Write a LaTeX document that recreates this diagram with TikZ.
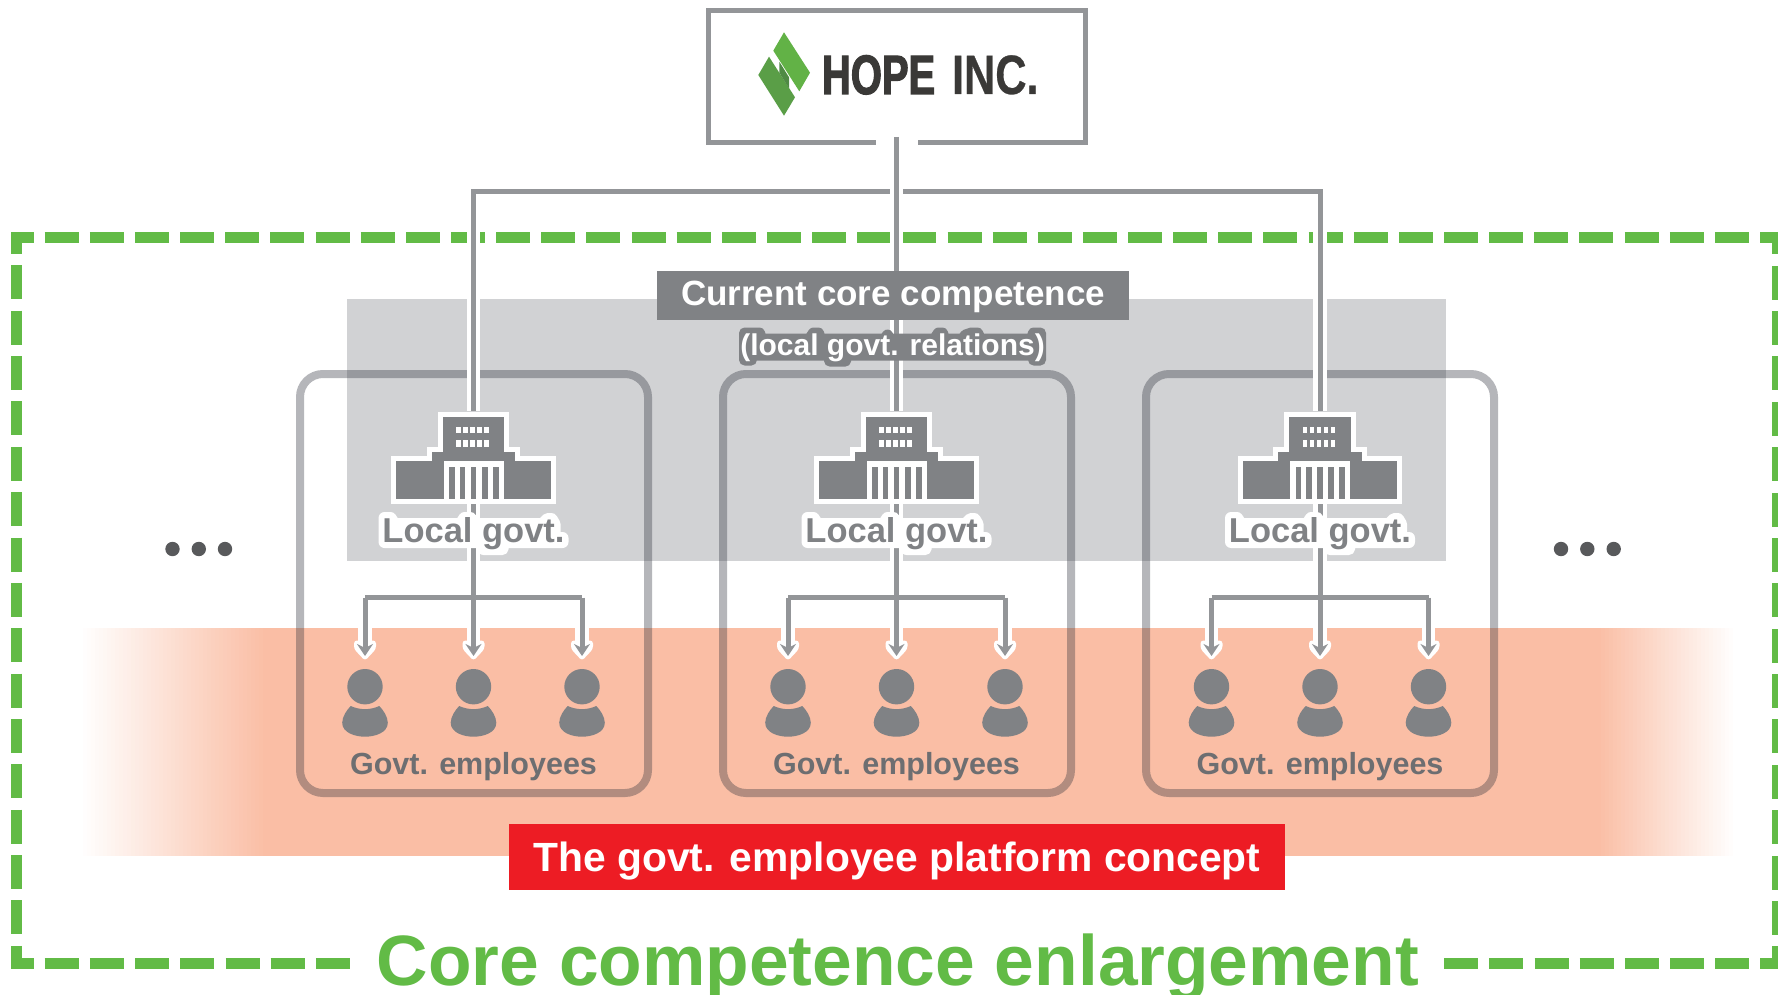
\documentclass[tikz,border=0pt]{standalone}
\usepackage{fontspec}
\usetikzlibrary{arrows.meta}
\setmainfont{Liberation Sans}
\newfontfamily\hopereg[FakeStretch=0.72,FakeBold=2]{Liberation Sans Bold}
\newfontfamily\hopebold[FakeStretch=0.78,FakeBold=0.5]{Liberation Sans Bold}
\definecolor{dashgreen}{HTML}{62BB46}
\definecolor{panelgray}{HTML}{D1D2D4}
\definecolor{salmon}{HTML}{FABEA5}
\definecolor{linegray}{HTML}{939598}
\definecolor{icongray}{HTML}{808285}
\definecolor{textgray}{HTML}{6D6E71}
\definecolor{boxshade}{RGB}{44,47,58}
\definecolor{dotgray}{HTML}{58595B}
\definecolor{redbox}{HTML}{ED1C24}
\definecolor{inkdark}{HTML}{3A3937}
\definecolor{logolight}{HTML}{62B246}
\definecolor{logodark}{HTML}{5A9E47}
\definecolor{logofold}{HTML}{4F8A44}
\tikzset{
  x=1pt,y=-1pt,
  greendash/.style={draw=dashgreen,line width=11pt,line cap=butt,miter limit=10},
  connector/.style={draw=linegray,line width=5pt,line cap=butt},
  halo/.style={draw=white,line width=13.4pt,line cap=butt},
  unitbox/.style={draw=boxshade,draw opacity=.35,line width=8pt,rounded corners=23pt},
  tiptip/.style={-{Stealth[length=12pt,width=16pt,inset=4pt,color=linegray]}},
  plain/.style={inner sep=0pt,outer sep=0pt},
  anchorbox/.style={plain,minimum width=154pt,minimum height=92pt},
  personbox/.style={plain,minimum width=46pt,minimum height=70pt},
  building/.pic={
    \fill[white] (-35.7,411.7-457) rectangle (35.7,456.7-457);
    \fill[white] (-46.8,446.7-457) rectangle (46.8,466.3-457);
    \fill[white] (-82.3,456.3-457) rectangle (82.3,504-457);
    \fill[icongray] (-30.7,416.7-457) rectangle (30.7,461.3-457);
    \fill[icongray] (-41.8,451.7-457) rectangle (41.8,461.3-457);
    \fill[icongray] (-77.3,461.3-457) rectangle (77.3,499-457);
    \fill[white] (-30,461.3-457) rectangle (30,499-457);
    \foreach \a/\b in {-24.3/-19,-13.7/-8.3,-2.7/2.7,8/14,19/25}
      \fill[icongray] (\a,466.7-457) rectangle (\b,499-457);
    \foreach \k in {0,...,4}{
      \fill[white] (-17.3+7*\k,427.3-457) rectangle (-12.6+7*\k,433.3-457);
      \fill[white] (-17.3+7*\k,440-457) rectangle (-12.6+7*\k,447.3-457);
    }
  },
  person/.pic={
    \fill[icongray] (0,0) circle[radius=17.7];
    \fill[icongray] (-14.3,19.3) .. controls (-5,23.5) and (5,23.5) .. (14.3,19.3)
      .. controls (18,23) and (22.8,30) .. (22.8,36)
      .. controls (22.8,46) and (10,50) .. (0,50)
      .. controls (-10,50) and (-22.8,46) .. (-22.8,36)
      .. controls (-22.8,30) and (-18,23) .. (-14.3,19.3) -- cycle;
  },
  tiphalo/.pic={
    \fill[white,rounded corners=3pt] (-11,-15.5) -- (-11,-7) -- (0,4.7) -- (11,-7) -- (11,-15.5) -- cycle;
  },
  govhalo/.pic={
    \filldraw[white,line width=12pt,line join=round]
      (-89,0) -- (-89,-24) -- (-83,-24) -- (-79,-18) -- (-13,-18) -- (-9,-24) -- (-3,-24)
      -- (0,-18) -- (69,-18) -- (74,-23) -- (78,-23) -- (81,-18) -- (81,-4) -- (89,-4) -- (89,0)
      -- (30,0) -- (29,7) -- (10,7) -- (10,0) -- cycle;
  },
  relhalo/.pic={
    \filldraw[icongray,line width=11pt,line join=round]
      (-148,5) -- (-148,-22) -- (-133,-22) -- (-131,-16) -- (-83,-16) -- (-79,-22) -- (-74,-22)
      -- (-72,-16) -- (-8,-16) -- (-5,-20) -- (-3,-16) -- (42,-16) -- (46,-22) -- (50,-22)
      -- (52,-16) -- (70,-16) -- (73,-20) -- (79,-22) -- (85,-22) -- (88,-16) -- (139,-16)
      -- (141,-22) -- (148,-22) -- (148,5) -- (141,5) -- (141,0) -- (-46,0) -- (-47,6)
      -- (-63,6) -- (-63,0) -- (-141,0) -- (-141,5) -- cycle;
  },
}
\begin{document}
\begin{tikzpicture}
\useasboundingbox (0,0) rectangle (1778,995);
\fill[white] (0,0) rectangle (1778,995);
% panels
\fill[panelgray] (347,299) rectangle (1446,561);
\fill[salmon] (267,628) rectangle (1597.5,856);
\foreach \k in {1,...,46}{
  \pgfmathsetmacro{\pct}{\k/46*100}
  \fill[salmon!\pct!white] (83+4*\k-4,628) rectangle (267.5,856);
}
\foreach \k in {1,...,34}{
  \pgfmathsetmacro{\pct}{\k/34*100}
  \fill[salmon!\pct!white] (1597,628) rectangle (1733-4*\k+4,856);
}
% green dashed frame
\draw[greendash,dash pattern=on 34pt off 11.14pt] (44.7,237.5) -- (1760,237.5);
\draw[greendash,dash pattern=on 34pt off 11.37pt] (16.5,265.3) -- (16.5,947);
\draw[greendash,dash pattern=on 34pt off 11.37pt] (1777.5,265.7) -- (1777.5,947);
\draw[greendash,dash pattern=on 34pt off 11.2pt] (44.7,963.5) -- (350.5,963.5);
\draw[greendash,dash pattern=on 34pt off 11.14pt] (1444.3,963.5) -- (1760.7,963.5);
\draw[greendash] (33.6,237.5) -- (16.5,237.5) -- (16.5,254);
\draw[greendash] (1760,237.5) -- (1777.5,237.5) -- (1777.5,254);
\draw[greendash] (16.5,947) -- (16.5,963.5) -- (33.6,963.5);
\draw[greendash] (1760.7,963.5) -- (1777.5,963.5) -- (1777.5,947);
% unit boxes
\foreach \cx in {474,897,1320}
  \draw[unitbox] (\cx-174,374) rectangle (\cx+174,793);
% top box
\node[plain,draw=linegray,line width=5pt,minimum width=377pt,minimum height=132pt] (hope) at (897,76.5) {};
\draw[white,line width=8pt] (876,142.5) -- (918,142.5);
\coordinate (hopeout) at (896.5,137);
% logo
\fill[logolight] (784,32.3) -- (810,72.7) -- (799.3,91.3) -- (773.3,50.7) -- cycle;
\fill[logodark] (769,56.7) -- (795,97.3) -- (784,115.7) -- (758.3,75) -- cycle;
\fill[logofold] (779.3,61.7) -- (789,77.3) -- (789,88.3) -- (779.3,72.7) -- cycle;
\node[plain,anchor=base west,text=inkdark,font={\hopereg\fontsize{55.5}{60}\selectfont}] (hopeword) at (822,94) {HOPE};
\node[plain,anchor=base west,text=inkdark,font={\hopebold\fontsize{55.5}{60}\selectfont}] (incword) at (952,94) {INC.};
% buildings and people anchors
\foreach \i/\cx in {1/473.5,2/896.5,3/1320}{
  \node[anchorbox] (gov\i) at (\cx,457) {};
  \coordinate (branch\i) at (\cx,597.5);
  \node[personbox] (pa\i) at (\cx-108.5,704) {};
  \node[personbox] (pb\i) at (\cx,704) {};
  \node[personbox] (pc\i) at (\cx+108.5,704) {};
}
% top connectors
\draw[connector,miter limit=10] (gov1.north) -- (gov1.north |- 0,191.5) -- (gov3.north |- 0,191.5) -- (gov3.north);
\foreach \i in {1,3}
  \draw[halo] (gov\i.north |- 0,194) -- (gov\i.north);
\draw[halo] (hopeout |- 0,186) -- (gov2.north);
\draw[connector] (hopeout) -- (gov2.north);
\foreach \i in {1,3}
  \draw[connector] (gov\i.north |- 0,191.5) -- (gov\i.north);
% lower connectors
\foreach \i/\cx in {1/473.5,2/896.5,3/1320}{
  \draw[halo] (gov\i.south) -- (\cx,645);
  \draw[halo] (\cx-108.5,600) -- (\cx-108.5,645);
  \draw[halo] (\cx+108.5,600) -- (\cx+108.5,645);
  \foreach \dx in {-108.5,0,108.5}
    \pic at (\cx+\dx,656) {tiphalo};
  \draw[connector,miter limit=10] (pa\i.north |- branch\i) -- (branch\i) -- (pc\i.north |- branch\i);
  \draw[connector,tiptip] (gov\i.south) -- (pb\i.north |- 0,656);
  \draw[connector,tiptip] (pa\i.north |- branch\i) -- (pa\i.north |- 0,656);
  \draw[connector,tiptip] (pc\i.north |- branch\i) -- (pc\i.north |- 0,656);
  \foreach \dx in {-108.5,0,108.5}
    \pic at (\cx+\dx,686.7) {person};
  \pic at (\cx,457) {building};
  \pic at (\cx,542) {govhalo};
  \node[plain,anchor=base,text=icongray,font={\bfseries\fontsize{34.5}{38}\selectfont}] (govlabel\i) at (\cx,542) {Local govt.};
  \node[plain,anchor=base,text=textgray,font={\bfseries\fontsize{30.5}{34}\selectfont}] (emplabel\i) at (\cx,774) {Govt. employees};
}
% ellipsis dots
\foreach \x in {172.5,198.8,225,1561,1587.3,1613.7}
  \fill[dotgray] (\x,549) circle[radius=7.2];
% titles
\node[plain,fill=icongray,minimum width=472pt,minimum height=49pt] (corebox) at (893,295.5) {};
\node[plain,anchor=base,text=white,font={\bfseries\fontsize{35}{38}\selectfont}] (coretext) at (893,305) {Current core competence};
\pic at (892.5,355) {relhalo};
\node[plain,anchor=base,text=white,font={\bfseries\fontsize{30}{32}\selectfont}] (corerel) at (892.5,355) {(local govt. relations)};
\node[plain,fill=redbox,minimum width=776pt,minimum height=66pt] (redrect) at (897,857) {};
\node[plain,anchor=base,text=white,font={\bfseries\fontsize{40.8}{44}\selectfont}] (redtext) at (897,871) {The govt. employee platform concept};
\node[plain,anchor=base,text=dashgreen,font={\bfseries\fontsize{71.3}{74}\selectfont}] (bigtitle) at (898,985.5) {Core competence enlargement};
\end{tikzpicture}
\end{document}
